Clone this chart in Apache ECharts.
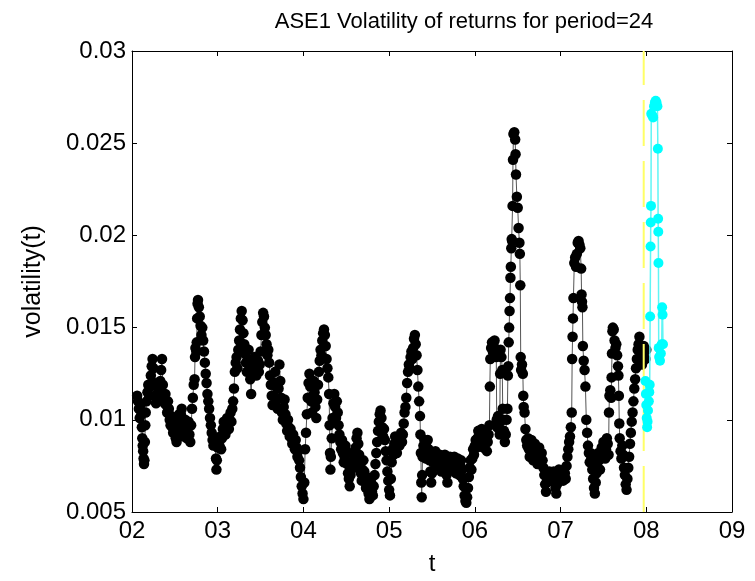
<!DOCTYPE html>
<html>
<head>
<meta charset="utf-8">
<script src="https://cdn.jsdelivr.net/npm/echarts@6/dist/echarts.min.js"></script>
<style>
html,body{margin:0;padding:0;background:#fff;}
#chart{width:755px;height:581px;}
</style>
</head>
<body>
<div id="chart"></div>
<script>
// ---- data ----
var titleText = 'ASE1 Volatility of returns for period=24';
var xName = 't';
var yName = 'volatility(t)';
var xTickLabels = ['02','03','04','05','06','07','08','09'];
var yTickLabels = ['0.005','0.01','0.015','0.02','0.025','0.03'];
var splitYear = [7.97];

// in-sample volatility [t (year), volatility]
var volIn = [
[2.06,0.0113],[2.07,0.0110],[2.08,0.0106],[2.09,0.0101],[2.10,0.0108],[2.11,0.0103],[2.115,0.0096],[2.12,0.0090],[2.125,0.0086],[2.13,0.0083],[2.135,0.0079],[2.14,0.0076],[2.145,0.0078],[2.15,0.0088],[2.155,0.0097],[2.16,0.0104],[2.17,0.0110],[2.18,0.0115],[2.19,0.0119],[2.20,0.0113],[2.21,0.0118],[2.22,0.0124],[2.23,0.0129],[2.24,0.0133],[2.25,0.0128],[2.26,0.0120],[2.27,0.0113],[2.28,0.0109],[2.29,0.0114],[2.30,0.0118],[2.31,0.0112],[2.32,0.0116],[2.33,0.0121],[2.34,0.0127],[2.35,0.0133],
[2.36,0.0119],[2.37,0.0113],[2.38,0.0109],[2.39,0.0114],[2.40,0.0108],[2.41,0.0104],[2.42,0.0110],[2.43,0.0106],[2.44,0.0100],[2.45,0.0097],[2.46,0.0102],[2.47,0.0096],[2.48,0.0093],[2.49,0.0098],[2.50,0.0094],[2.51,0.0090],[2.52,0.0088],[2.53,0.0093],[2.54,0.0099],[2.55,0.0103],[2.56,0.0098],[2.57,0.0103],[2.58,0.0106],[2.59,0.0100],
[2.60,0.0091],[2.61,0.0095],[2.62,0.0100],[2.63,0.0096],[2.64,0.0090],[2.65,0.0093],[2.66,0.0099],[2.67,0.0092],[2.68,0.0088],[2.69,0.0097],[2.70,0.0106],[2.71,0.0112],[2.72,0.0119],[2.73,0.0122],[2.735,0.0134],[2.74,0.0139],[2.75,0.0137],[2.755,0.0142],[2.76,0.0155],[2.765,0.0163],[2.77,0.0165],[2.78,0.0161],[2.79,0.0156],[2.80,0.0151],[2.81,0.0146],[2.82,0.0150],[2.83,0.0143],[2.84,0.0137],[2.85,0.0131],[2.86,0.0125],[2.87,0.0120],[2.88,0.0114],[2.89,0.0110],[2.90,0.0106],[2.91,0.0101],[2.92,0.0097],[2.93,0.0093],[2.94,0.0089],[2.95,0.0086],[2.96,0.0090],[2.97,0.0087],[2.98,0.0079],[2.985,0.0073],[2.99,0.0078],
[3.00,0.0085],[3.01,0.0089],[3.02,0.0086],[3.03,0.0091],[3.04,0.0084],[3.05,0.0090],[3.06,0.0095],[3.07,0.0099],[3.08,0.0094],[3.09,0.0092],[3.10,0.0098],[3.11,0.0101],[3.12,0.0097],[3.13,0.0095],[3.14,0.0100],[3.15,0.0104],[3.16,0.0099],[3.17,0.0106],[3.18,0.0110],[3.19,0.0117],[3.20,0.0126],[3.21,0.0131],[3.22,0.0134],[3.23,0.0128],[3.24,0.0138],[3.25,0.0143],[3.26,0.0149],[3.27,0.0155],[3.28,0.0159],[3.29,0.0154],[3.30,0.0147],[3.31,0.0141],[3.32,0.0136],[3.33,0.0131],[3.34,0.0126],[3.35,0.0133],[3.36,0.0138],[3.37,0.0131],[3.38,0.0122],[3.39,0.0114],[3.40,0.0125],[3.41,0.0130],[3.42,0.0127],[3.43,0.0134],[3.44,0.0129],[3.45,0.0124],[3.46,0.0128],[3.47,0.0132],[3.48,0.0126],[3.49,0.0130],[3.50,0.0137],[3.51,0.0146],[3.52,0.0153],[3.53,0.0158],[3.54,0.0156],[3.55,0.0150],[3.56,0.0146],[3.57,0.0141],[3.58,0.0135],[3.59,0.0138],[3.60,0.0131],[3.61,0.0124],[3.62,0.0119],[3.63,0.0113],[3.64,0.0108],[3.65,0.0113],[3.66,0.0120],[3.67,0.0126],[3.68,0.0118],[3.69,0.0111],[3.70,0.0106],[3.71,0.0117],[3.72,0.0130],[3.73,0.0121],[3.74,0.0112],[3.75,0.0104],[3.76,0.0100],[3.77,0.0107],[3.78,0.0111],[3.79,0.0103],[3.80,0.0098],[3.81,0.0094],[3.82,0.0100],[3.83,0.0096],[3.84,0.0091],[3.85,0.0095],[3.86,0.0090],[3.87,0.0087],[3.88,0.0092],[3.89,0.0088],[3.90,0.0084],[3.91,0.0089],[3.92,0.0085],[3.93,0.0080],[3.94,0.0083],[3.95,0.0078],[3.96,0.0074],[3.97,0.0069],[3.98,0.0064],[3.99,0.0060],[4.00,0.0057],
[4.01,0.0066],[4.02,0.0084],[4.03,0.0093],[4.04,0.0103],[4.05,0.0112],[4.06,0.0120],[4.07,0.0125],[4.08,0.0118],[4.09,0.0110],[4.10,0.0104],[4.11,0.0113],[4.12,0.0121],[4.13,0.0115],[4.14,0.0107],[4.15,0.0101],[4.16,0.0111],[4.17,0.0119],[4.18,0.0126],[4.19,0.0132],[4.20,0.0138],[4.21,0.0135],[4.22,0.0143],[4.23,0.0147],[4.24,0.0149],[4.25,0.0146],[4.26,0.0140],[4.27,0.0133],[4.28,0.0128],[4.29,0.0123],[4.30,0.0114],[4.305,0.0097],[4.31,0.0082],[4.315,0.0073],[4.32,0.0080],[4.33,0.0090],[4.34,0.0101],[4.35,0.0109],[4.36,0.0114],[4.37,0.0107],[4.38,0.0101],[4.39,0.0110],[4.40,0.0104],[4.41,0.0097],[4.42,0.0092],[4.43,0.0088],[4.44,0.0084],[4.45,0.0089],[4.46,0.0082],[4.47,0.0077],[4.48,0.0080],[4.49,0.0086],[4.50,0.0083],[4.51,0.0076],[4.52,0.0071],[4.53,0.0068],[4.54,0.0064],[4.55,0.0070],[4.56,0.0076],[4.57,0.0082],[4.58,0.0078],[4.59,0.0074],[4.60,0.0079],[4.61,0.0085],[4.62,0.0090],[4.63,0.0093],[4.64,0.0087],[4.65,0.0081],[4.66,0.0076],[4.67,0.0071],[4.68,0.0067],[4.69,0.0073],[4.70,0.0078],[4.71,0.0072],[4.72,0.0067],[4.73,0.0063],[4.74,0.0069],[4.75,0.0064],[4.76,0.0060],[4.77,0.0057],[4.78,0.0062],[4.79,0.0066],[4.80,0.0061],[4.81,0.0059],[4.82,0.0064],[4.83,0.0070],[4.84,0.0076],[4.85,0.0082],[4.86,0.0088],[4.87,0.0094],[4.88,0.0099],[4.89,0.0103],[4.90,0.0105],[4.91,0.0101],[4.92,0.0096],[4.93,0.0091],[4.94,0.0095],[4.95,0.0089],[4.96,0.0083],[4.97,0.0078],[4.98,0.0072],[4.99,0.0067],[5.00,0.0062],[5.01,0.0059],
[5.02,0.0068],[5.03,0.0077],[5.04,0.0084],[5.05,0.0081],[5.06,0.0087],[5.07,0.0091],[5.08,0.0085],[5.09,0.0082],[5.10,0.0088],[5.11,0.0090],[5.12,0.0086],[5.13,0.0089],[5.14,0.0093],[5.15,0.0088],[5.16,0.0092],[5.17,0.0098],[5.18,0.0104],[5.19,0.0107],[5.20,0.0112],[5.21,0.0120],[5.22,0.0126],[5.23,0.0130],[5.24,0.0128],[5.25,0.0134],[5.26,0.0137],[5.27,0.0133],[5.28,0.0139],[5.29,0.0144],[5.30,0.0146],[5.31,0.0141],[5.32,0.0135],[5.33,0.0127],[5.34,0.0118],[5.35,0.0110],[5.36,0.0102],[5.365,0.0092],[5.37,0.0082],[5.375,0.0066],[5.38,0.0058],[5.385,0.0070],[5.39,0.0080],[5.40,0.0086],[5.41,0.0089],[5.42,0.0083],[5.43,0.0079],[5.44,0.0085],[5.45,0.0089],[5.46,0.0084],[5.47,0.0078],[5.48,0.0072],[5.49,0.0066],[5.50,0.0071],[5.51,0.0077],[5.52,0.0082],[5.53,0.0079],[5.54,0.0083],[5.55,0.0078],[5.56,0.0075],[5.57,0.0080],[5.58,0.0077],[5.59,0.0081],[5.60,0.0076],[5.61,0.0072],[5.62,0.0078],[5.63,0.0074],[5.64,0.0079],[5.65,0.0081],[5.66,0.0076],[5.67,0.0070],[5.68,0.0066],[5.69,0.0072],[5.70,0.0078],[5.71,0.0080],[5.72,0.0076],[5.73,0.0079],[5.74,0.0074],[5.75,0.0078],[5.76,0.0080],[5.77,0.0075],[5.78,0.0071],[5.79,0.0077],[5.80,0.0079],[5.81,0.0074],[5.82,0.0070],[5.83,0.0075],[5.84,0.0078],[5.85,0.0073],[5.86,0.0068],[5.87,0.0064],[5.88,0.0059],[5.89,0.0056],[5.90,0.0055],[5.91,0.0058],[5.92,0.0063],[5.93,0.0069],[5.94,0.0074],[5.95,0.0078],[5.96,0.0073],[5.97,0.0079],[5.98,0.0084],[5.99,0.0081],[6.00,0.0086],[6.01,0.0089],
[6.02,0.0085],[6.03,0.0090],[6.04,0.0094],[6.05,0.0091],[6.06,0.0087],[6.07,0.0092],[6.08,0.0095],[6.09,0.0090],[6.10,0.0085],[6.11,0.0089],[6.12,0.0093],[6.13,0.0089],[6.14,0.0083],[6.15,0.0088],[6.16,0.0092],[6.17,0.0097],[6.175,0.0118],[6.18,0.0133],[6.19,0.0139],[6.20,0.0142],[6.21,0.0137],[6.22,0.0140],[6.23,0.0143],[6.24,0.0138],[6.25,0.0134],[6.255,0.0100],[6.26,0.0096],[6.27,0.0102],[6.28,0.0098],[6.29,0.0092],[6.295,0.0125],[6.30,0.0138],[6.31,0.0134],[6.32,0.0127],[6.325,0.0106],[6.33,0.0100],[6.34,0.0094],[6.35,0.0088],[6.36,0.0092],[6.37,0.0100],[6.38,0.0106],[6.385,0.0124],[6.39,0.0129],[6.395,0.0142],[6.40,0.0150],[6.405,0.0159],[6.41,0.0166],[6.415,0.0177],[6.42,0.0183],[6.425,0.0193],[6.43,0.0198],[6.435,0.0197],[6.44,0.0216],[6.445,0.0241],[6.45,0.0255],[6.46,0.0256],[6.47,0.0252],[6.475,0.0244],[6.48,0.0233],[6.49,0.0221],[6.50,0.0215],[6.51,0.0204],[6.52,0.0196],[6.525,0.0190],[6.53,0.0173],[6.535,0.0134],[6.54,0.0127],[6.55,0.0130],[6.56,0.0125],[6.565,0.0113],[6.57,0.0107],[6.58,0.0104],[6.59,0.0095],[6.60,0.0089],[6.61,0.0086],[6.62,0.0090],[6.63,0.0084],[6.64,0.0080],[6.65,0.0086],[6.66,0.0089],[6.67,0.0083],[6.68,0.0078],[6.69,0.0082],[6.70,0.0087],[6.71,0.0084],[6.72,0.0079],[6.73,0.0076],[6.74,0.0081],[6.75,0.0085],[6.76,0.0080],[6.77,0.0076],[6.78,0.0082],[6.79,0.0078],[6.80,0.0074],[6.81,0.0070],[6.82,0.0065],[6.83,0.0061],[6.84,0.0066],[6.85,0.0071],[6.86,0.0068],[6.87,0.0072],[6.88,0.0070],[6.89,0.0067],[6.90,0.0071],[6.91,0.0069],[6.92,0.0072],[6.93,0.0068],[6.94,0.0063],[6.95,0.0060],[6.96,0.0065],[6.97,0.0070],[6.98,0.0073],[6.99,0.0071],
[7.00,0.0069],[7.01,0.0072],[7.02,0.0070],[7.03,0.0067],[7.04,0.0073],[7.05,0.0071],[7.06,0.0068],[7.07,0.0075],[7.08,0.0080],[7.09,0.0084],[7.10,0.0088],[7.11,0.0091],[7.12,0.0096],[7.13,0.0104],[7.135,0.0133],[7.14,0.0145],[7.145,0.0155],[7.15,0.0166],[7.16,0.0185],[7.17,0.0188],[7.18,0.0183],[7.19,0.0190],[7.20,0.0196],[7.21,0.0197],[7.22,0.0195],[7.23,0.0193],[7.24,0.0182],[7.245,0.0168],[7.25,0.0164],[7.255,0.0161],[7.26,0.0140],[7.27,0.0132],[7.28,0.0127],[7.29,0.0118],[7.30,0.0100],[7.31,0.0093],[7.32,0.0086],[7.33,0.0082],[7.34,0.0077],[7.35,0.0082],[7.36,0.0079],[7.37,0.0073],[7.38,0.0068],[7.39,0.0063],[7.40,0.0060],[7.41,0.0066],[7.42,0.0071],[7.43,0.0077],[7.44,0.0082],[7.45,0.0078],[7.46,0.0073],[7.47,0.0080],[7.48,0.0085],[7.49,0.0082],[7.50,0.0088],[7.51,0.0085],[7.52,0.0079],[7.53,0.0084],[7.54,0.0090],[7.55,0.0087],[7.56,0.0081],[7.565,0.0104],[7.57,0.0113],[7.58,0.0116],[7.59,0.0112],[7.595,0.0123],[7.60,0.0136],[7.605,0.0148],[7.61,0.0150],[7.62,0.0149],[7.63,0.0143],[7.64,0.0139],[7.65,0.0141],[7.66,0.0135],[7.67,0.0129],[7.675,0.0124],[7.68,0.0113],[7.685,0.0098],[7.69,0.0090],[7.70,0.0083],[7.71,0.0079],[7.72,0.0086],[7.73,0.0081],[7.74,0.0074],[7.75,0.0070],[7.76,0.0065],[7.77,0.0062],[7.78,0.0068],[7.79,0.0074],[7.80,0.0080],[7.81,0.0087],[7.82,0.0093],[7.83,0.0099],[7.84,0.0104],[7.85,0.0110],[7.86,0.0117],[7.87,0.0122],[7.88,0.0128],[7.89,0.0133],[7.90,0.0138],[7.91,0.0141],[7.92,0.0145],[7.93,0.0139],[7.94,0.0133],[7.95,0.0130],[7.96,0.0136],[7.97,0.0140],[7.98,0.0137],[7.99,0.0133],[8.00,0.0138]
];

// out-of-sample volatility [t (year), volatility]
var volOut = [
[7.99,0.0121],[7.995,0.0114],[8.00,0.0108],[8.005,0.0101],[8.01,0.0096],[8.015,0.0099],[8.02,0.0105],[8.03,0.0110],[8.035,0.0115],[8.04,0.0119],[8.045,0.0156],[8.05,0.0194],[8.052,0.0207],[8.055,0.0216],[8.058,0.0266],[8.07,0.0265],[8.08,0.0264],[8.09,0.0270],[8.10,0.0272],[8.11,0.0273],[8.12,0.0272],[8.13,0.0270],[8.135,0.0247],[8.138,0.0209],[8.14,0.0202],[8.142,0.0185],[8.145,0.0139],[8.15,0.0134],[8.16,0.0132],[8.17,0.0136],[8.18,0.0141],[8.185,0.0161],[8.19,0.0157],[8.195,0.0141]
];

var FONT = 'Liberation Sans, Arial, sans-serif';
var chart = echarts.init(document.getElementById('chart'), null, {renderer: 'canvas'});

function xLabel(v){ var i = Math.round(v - 2); return xTickLabels[i] !== undefined ? xTickLabels[i] : ''; }
function yLabel(v){ var i = Math.round((v - 0.005) / 0.005); return yTickLabels[i] !== undefined ? yTickLabels[i] : ''; }

var axisCommon = {
  type: 'value',
  axisLine: {show: true, onZero: false, lineStyle: {color: '#000', width: 1}},
  axisTick: {show: true, inside: true, length: 5, lineStyle: {color: '#000', width: 1}},
  splitLine: {show: false}
};

chart.setOption({
  animation: false,
  backgroundColor: '#fff',
  title: {
    text: titleText,
    left: 459, top: 6, textAlign: 'center',
    textStyle: {fontFamily: FONT, fontSize: 22, fontWeight: 'normal', color: '#000'}
  },
  grid: {left: 132, right: 23, top: 51, bottom: 64, containLabel: false},
  xAxis: [
    Object.assign({}, axisCommon, {
      position: 'bottom', min: 2, max: 9, interval: 1,
      name: xName, nameLocation: 'middle', nameGap: 40,
      nameTextStyle: {fontFamily: FONT, fontSize: 24, color: '#000'},
      axisLabel: {show: true, formatter: xLabel, margin: 7, fontFamily: FONT, fontSize: 24, color: '#000'}
    }),
    Object.assign({}, axisCommon, {
      position: 'top', min: 2, max: 9, interval: 1,
      axisLabel: {show: false}
    })
  ],
  yAxis: [
    Object.assign({}, axisCommon, {
      position: 'left', min: 0.005, max: 0.03, interval: 0.005,
      name: yName, nameLocation: 'middle', nameGap: 86, nameRotate: 90,
      nameTextStyle: {fontFamily: FONT, fontSize: 25, color: '#000'},
      axisLabel: {show: true, formatter: yLabel, margin: 6, fontFamily: FONT, fontSize: 24, color: '#000'}
    }),
    Object.assign({}, axisCommon, {
      position: 'right', min: 0.005, max: 0.03, interval: 0.005,
      axisLabel: {show: false}
    })
  ],
  series: [
    {
      name: 'in-sample', type: 'line', data: volIn, xAxisIndex: 0, yAxisIndex: 0,
      symbol: 'circle', symbolSize: 10.5, showAllSymbol: true,
      itemStyle: {color: '#000'},
      lineStyle: {color: '#555', width: 1},
      z: 2
    },
    {
      name: 'split', type: 'line',
      data: [[splitYear[0], 0.005], [splitYear[0], 0.03]],
      symbol: 'none',
      lineStyle: {color: '#ffff66', width: 2, type: [46, 15]},
      z: 3
    },
    {
      name: 'out-of-sample', type: 'line', data: volOut,
      symbol: 'circle', symbolSize: 10, showAllSymbol: true,
      itemStyle: {color: '#00ffff'},
      lineStyle: {color: '#5ff5f5', width: 1.5},
      z: 4
    }
  ]
});
</script>
</body>
</html>
